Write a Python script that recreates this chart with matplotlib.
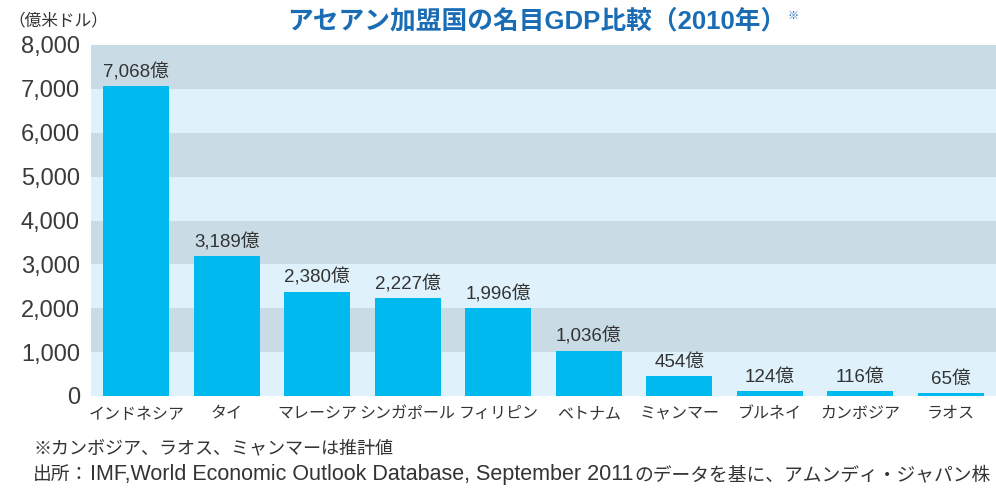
import matplotlib
matplotlib.use("Agg")
import matplotlib.pyplot as plt

plt.rcParams['font.family'] = ['Liberation Sans', 'Noto Sans CJK JP', 'DejaVu Sans']

countries = ["インドネシア", "タイ", "マレーシア", "シンガポール", "フィリピン",
             "ベトナム", "ミャンマー", "ブルネイ", "カンボジア", "ラオス"]
gdp = [7068, 3189, 2380, 2227, 1996, 1036, 454, 124, 116, 65]
yticks = [0, 1000, 2000, 3000, 4000, 5000, 6000, 7000, 8000]

bar_color = "#00B9EF"
band_dark = "#C9DCE6"
band_light = "#DFF1FB"
text_color = "#333333"
title_color = "#1A6DB4"

W, H = 996, 491
fig = plt.figure(figsize=(W / 100, H / 100), dpi=100)
ax = fig.add_axes([91 / W, 1 - 396 / H, 1 - 91 / W, 351 / H])

# alternating horizontal bands
for i in range(len(yticks) - 1):
    color = band_dark if i % 2 == 1 else band_light
    ax.axhspan(yticks[i], yticks[i + 1], color=color, zorder=0, lw=0)

x = range(len(countries))
ax.bar(x, gdp, width=0.73, color=bar_color, zorder=2)

for xi, v in zip(x, gdp):
    ax.text(xi, v + 110, f"{v:,}億", ha="center", va="bottom",
            fontsize=13.5, color=text_color, zorder=3)

ax.set_xlim(-0.5, len(countries) - 0.5)
ax.set_ylim(0, 8000)
ax.set_yticks(yticks)
ax.set_yticklabels([f"{t:,}" for t in yticks], fontsize=17, color="#3a3a3a")
ax.set_xticks(list(x))
ax.set_xticklabels(countries, fontsize=11.5, color=text_color)
ax.tick_params(length=0)
ax.tick_params(axis="y", pad=8)
ax.tick_params(axis="x", pad=7)
for s in ax.spines.values():
    s.set_visible(False)

renderer = fig.canvas.get_renderer()


def text_row(x0, y, pieces, gap=0):
    """Place several text pieces side by side on one baseline (pixel coords)."""
    xpos = x0
    out = []
    for s, size in pieces:
        t = fig.text(xpos / W, 1 - y / H, s, fontsize=size, color=text_color,
                     ha="left", va="baseline")
        xpos = t.get_window_extent(renderer).x1 + gap
        out.append(t)
    return out


fig.text(8 / W, 1 - 20 / H, "（億米ドル）", fontsize=12, color=text_color,
         ha="left", va="center")

title = fig.text(537 / W, 1 - 21 / H, "アセアン加盟国の名目GDP比較（2010年）",
                 fontsize=18.5, fontweight="bold", color=title_color,
                 ha="center", va="center")
tb = title.get_window_extent(renderer)
fig.text((tb.x1 + 1) / W, (tb.y1 - 2) / H, "※", fontsize=8, color=title_color,
         ha="left", va="top")

fig.text(33 / W, 1 - 449 / H, "※カンボジア、ラオス、ミャンマーは推計値",
         fontsize=13, color=text_color, ha="left", va="center")

# source line: latin part drawn a bit larger, as in the original
text_row(33, 480, [
    ("出所：", 13.5),
    ("IMF,World Economic Outlook Database, September 2011", 15.5),
    ("のデータを基に、アムンディ・ジャパン株", 13.5),
], gap=1)

fig.savefig("out.png", dpi=100)
